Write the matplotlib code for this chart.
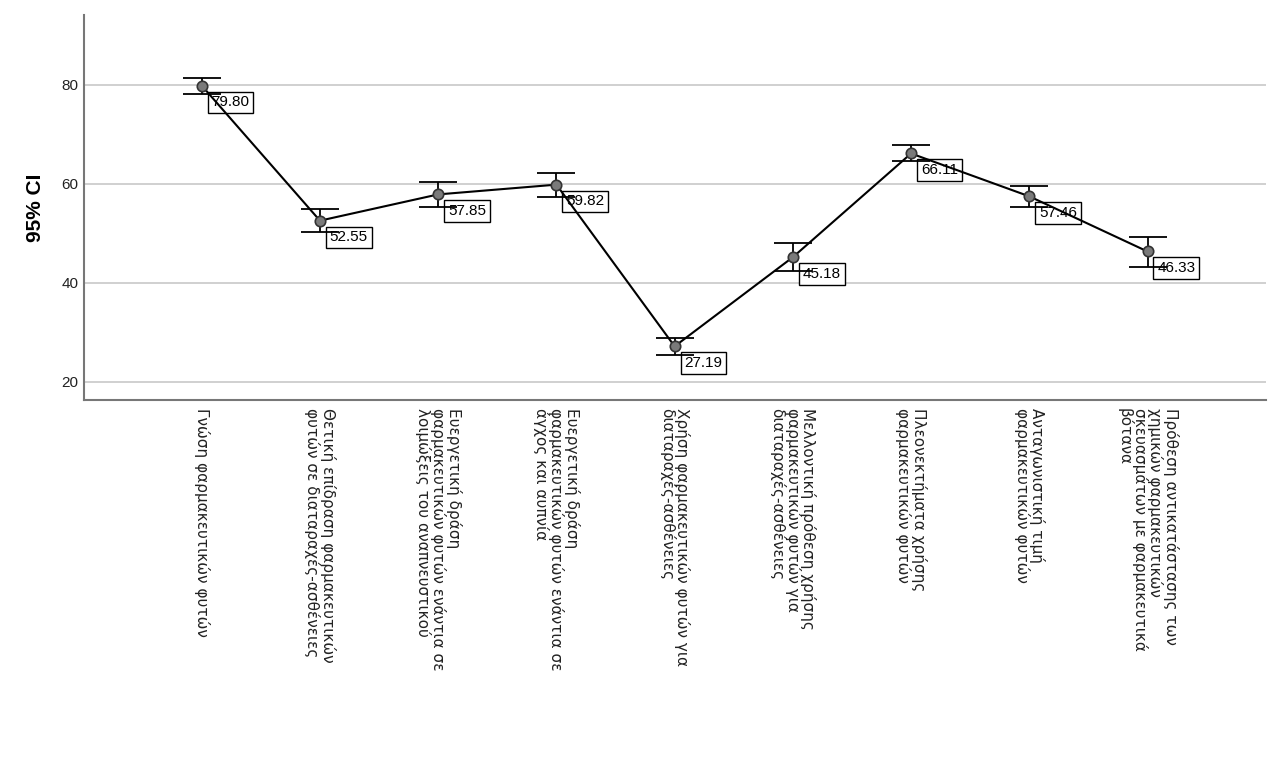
import matplotlib
matplotlib.use("Agg")
import matplotlib.pyplot as plt

plt.rcParams['font.family'] = ['Liberation Sans', 'DejaVu Sans']

# categories (x axis)
labels = [
    "Γνώση φαρμακευτικών φυτών",
    "Θετική επίδραση φαρμακευτικών\nφυτών σε διαταραχές-ασθένειες",
    "Ευεργετική δράση\nφαρμακευτικών φυτών ενάντια σε\nλοιμώξεις του αναπνευστικού",
    "Ευεργετική δράση\nφαρμακευτικών φυτών ενάντια σε\nάγχος και αυπνία",
    "Χρήση φαρμακευτικών φυτών για\nδιαταραχές-ασθένειες",
    "Μελλοντική πρόθεση χρήσης\nφαρμακευτικών φυτών για\nδιαταραχές-ασθένειες",
    "Πλεονεκτήματα χρήσης\nφαρμακευτικών φυτών",
    "Ανταγωνιστική τιμή\nφαρμακευτικών φυτών",
    "Πρόθεση αντικατάστασης των\nχημικών φαρμακευτικών\nσκευασμάτων με φαρμακευτικά\nβότανα",
]

# means and 95% confidence limits
means = [79.80, 52.55, 57.85, 59.82, 27.19, 45.18, 66.11, 57.46, 46.33]
ci_low = [78.2, 50.3, 55.4, 57.4, 25.5, 42.3, 64.5, 55.3, 43.3]
ci_high = [81.4, 54.9, 60.3, 62.2, 28.8, 48.1, 67.9, 59.6, 49.35]

yticks = [20, 40, 60, 80]

x = list(range(len(means)))
err_lo = [m - lo for m, lo in zip(means, ci_low)]
err_hi = [hi - m for m, hi in zip(means, ci_high)]

fig, ax = plt.subplots(figsize=(12.85, 7.63), dpi=100)
fig.subplots_adjust(left=0.065, right=0.985, top=0.98, bottom=0.476)

# grid
for v in yticks:
    ax.axhline(v, color='#c8c8c8', lw=1.2, zorder=0)

ax.errorbar(x, means, yerr=[err_lo, err_hi], fmt='none', ecolor='black',
            elinewidth=1.3, capsize=14, capthick=1.3, zorder=3)
ax.plot(x, means, '-', color='black', lw=1.5, zorder=4)
ax.plot(x, means, 'o', ms=7.5, mfc='#7a7a7a', mec='#333333', mew=1.2, zorder=5)

# value boxes
for xi, m in zip(x, means):
    ax.annotate(f"{m:.2f}", (xi, m), xytext=(7, -7), textcoords='offset points',
                ha='left', va='top', fontsize=11, zorder=2,
                bbox=dict(boxstyle='square,pad=0.25', fc='white', ec='black', lw=1))

ax.set_xlim(-1, 9)
ax.set_ylim(16.4, 94)
ax.set_yticks(yticks)
ax.set_xticks(x)
ax.set_xticklabels(labels, rotation=270, ha='center', va='top',
                   multialignment='left', fontsize=11.5, linespacing=0.95,
                   family='DejaVu Sans')
ax.tick_params(axis='both', length=0, labelsize=11, colors='#222222')
ax.tick_params(axis='x', pad=6)
ax.set_ylabel("95% CI", fontsize=15, fontweight='bold', labelpad=12)

for s in ['top', 'right']:
    ax.spines[s].set_visible(False)
for s in ['left', 'bottom']:
    ax.spines[s].set_color('#777777')
    ax.spines[s].set_linewidth(1.5)

plt.savefig("out.png", dpi=100)
plt.close()
